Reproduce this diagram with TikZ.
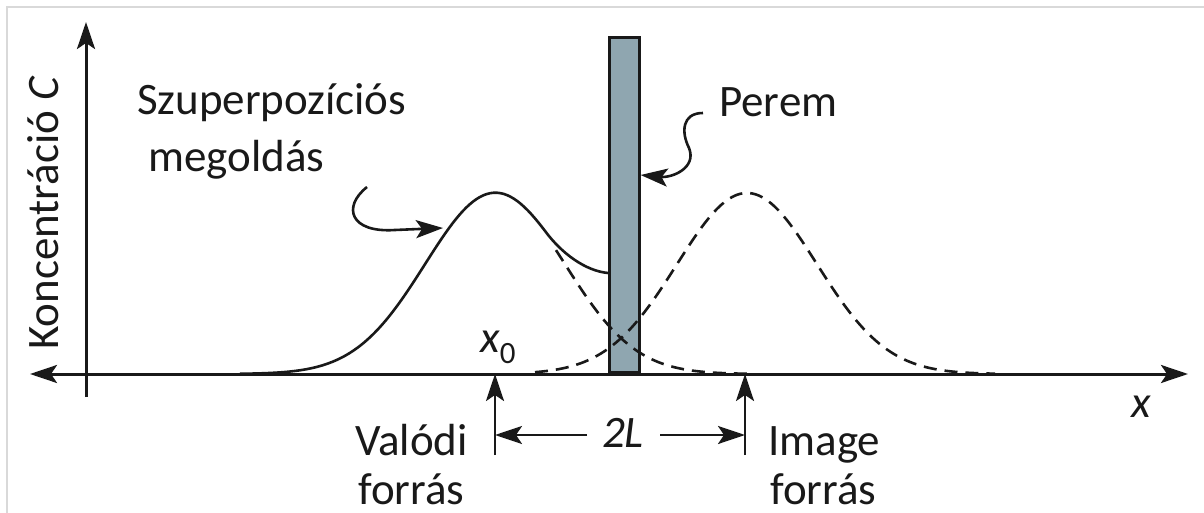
\documentclass[tikz,border=0pt]{standalone}
\usepackage{fontspec}
\setmainfont{Carlito}
\usetikzlibrary{arrows.meta}
\definecolor{peremfill}{RGB}{143,166,176}
\definecolor{ink}{RGB}{25,25,25}

\begin{document}
\begin{tikzpicture}[x=1pt, y=-1pt,
    >={Stealth[length=27pt, width=18pt, inset=6pt]},
    declare function={g(\t,\m)=181*exp(-0.5*((\t-\m)/70)^2);},
    lbl/.style={font=\fontsize{45}{54}\selectfont, text=ink, inner sep=0pt},
    curve/.style={line width=2.6pt, draw=ink},
    gdash/.style={curve, dash pattern=on 13pt off 8pt}]

    \useasboundingbox (0,0) rectangle (1204,513);
    % light frame
    \draw[gray!30, line width=1.5pt] (7,513) -- (7,7) -- (1204,7);

    % Axes
    \coordinate (xl) at (30,374);
    \coordinate (xr) at (1188,374);
    \coordinate (yb) at (86,397);
    \coordinate (yt) at (86,22);
    \draw[<->, line width=3pt, ink] (xl) -- (xr);
    \draw[->, line width=3pt, ink] (yb) -- (yt);

    % Boundary (wall)
    \node[draw=ink, line width=2.6pt, fill=peremfill, minimum width=30pt,
          minimum height=335pt, inner sep=0pt, anchor=south west] (perem) at (608,374) {};

    % Concentration curves
    \draw[curve] plot[domain=240:545, samples=90] (\x, {374-g(\x,495)-g(\x,747)})
        .. controls (562,254) and (586,271) .. (perem.west |- 0,273);
    \draw[gdash] plot[domain=556:748, samples=60] (\x, {374-g(\x,495)});
    \draw[gdash] plot[domain=535:995, samples=120] (\x, {374-g(\x,747)});

    % Labels
    \node[lbl, rotate=90, anchor=base west] (konc) at (58,350) {Koncentráció \textit{C}};
    \node[lbl, anchor=base west] (szup) at (137,115) {Szuperpozíciós};
    \node[lbl, anchor=base west] (megold) at (148,172) {megoldás};
    \node[lbl, anchor=base west] (perlbl) at (719,117) {Perem};
    \node[lbl, anchor=base west] (xnull) at (480,352) {\textit{x}\raisebox{-11pt}{\fontsize{31}{31}\selectfont 0}};
    \node[lbl, anchor=base] (xlbl) at (1141,417) {\textit{x}};
    \node[lbl, anchor=base] (twoL) at (623,447) {\textit{2L}};
    \node[lbl, anchor=base west] (valodi) at (355,455) {Valódi};
    \node[lbl, anchor=base west] (vforras) at (358,504) {forrás};
    \node[lbl, anchor=base west] (image) at (768,455) {Image};
    \node[lbl, anchor=base west] (iforras) at (770,504) {forrás};

    % Pointer arrows
    \coordinate (sa) at (367,187);
    \coordinate (st) at (443,228);
    \draw[->, curve] (sa) .. controls (342,207) and (350,233) .. (395,230) -- (st);
    \coordinate (pa) at (703,113);
    \draw[->, curve] (pa) .. controls (682,113) and (681,132) .. (689,148)
        .. controls (697,168) and (672,178) .. (perem.east |- 0,175);

    % Sources and distance 2L
    \coordinate (vs) at (495,455);
    \coordinate (is) at (745,455);
    \coordinate (lt) at (587,435);
    \coordinate (rt) at (660,435);
    \draw[->, curve] (vs) -- (vs |- xl);
    \draw[->, curve] (is) -- (is |- xl);
    \draw[->, curve] (lt) -- (vs |- lt);
    \draw[->, curve] (rt) -- (is |- rt);

\end{tikzpicture}
\end{document}
